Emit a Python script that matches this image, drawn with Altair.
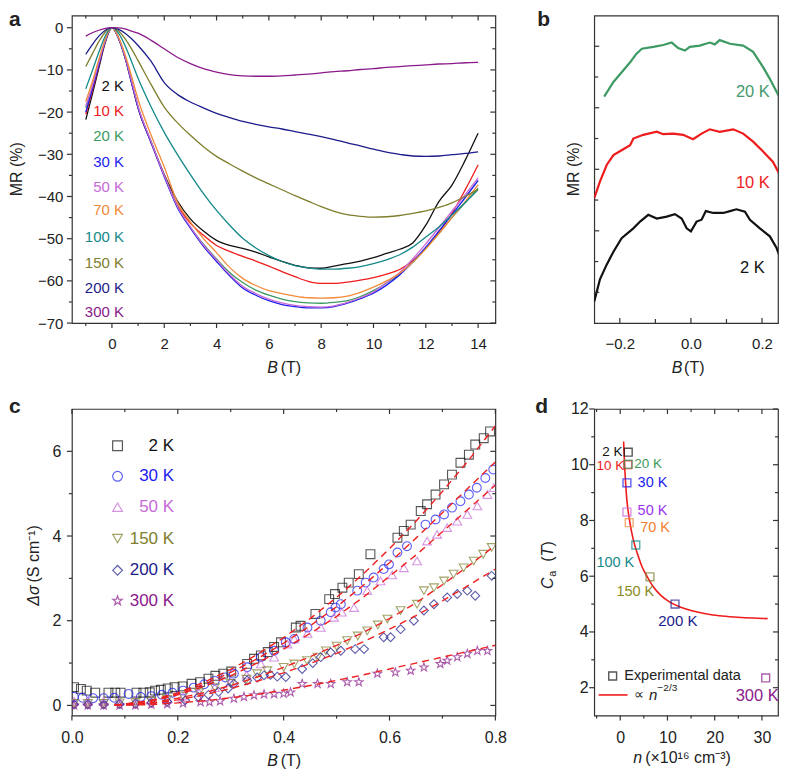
import altair as alt
import pandas as pd

FONT = "Liberation Sans"
TICK = "#333333"
INK = "#222222"

# ---------------- Panel a : MR vs B for ten temperatures ----------------
temps_a = ["2 K", "10 K", "20 K", "30 K", "50 K", "70 K", "100 K", "150 K", "200 K", "300 K"]
colors_a = ["#111111", "#ee1c1c", "#3c9a62", "#1c1cf0", "#c66ad6", "#f38b3a",
            "#14898a", "#7e7e2c", "#1c1c8a", "#8a1a8a"]
B_a = [-1.0, -0.75, -0.5, -0.25, 0.0, 0.25, 0.5, 0.75, 1.0, 1.5, 2.0, 2.5, 3.0, 3.5, 4.0,
       4.5, 5.0, 5.5, 6.0, 6.5, 7.0, 7.5, 8.0, 8.5, 9.0, 9.5, 10.0, 10.5, 11.0, 11.5,
       12.0, 12.5, 13.0, 13.5, 14.0]
MR_2K = [-21.8, -15.8, -9.5, -3.4, 0.0, -2.5, -7.0, -13.0, -19.0, -27.2, -34.8, -41.0, -45.3,
         -48.2, -50.4, -51.6, -52.3, -53.2, -54.3, -55.4, -56.3, -56.9, -57.0, -56.5, -55.9,
         -55.3, -54.5, -53.5, -52.5, -51.0, -46.8, -41.2, -37.3, -31.5, -25.0]
MR_10K = [-20.5, -15.0, -9.0, -3.2, 0.0, -2.5, -7.0, -13.0, -19.0, -27.2, -35.0, -42.0, -46.3,
          -49.2, -51.6, -53.0, -54.2, -55.3, -56.5, -57.8, -59.0, -60.1, -60.6, -60.6, -60.3,
          -59.8, -59.2, -58.4, -57.3, -55.2, -52.3, -48.4, -44.0, -38.5, -32.5]
MR_20K = [-19.0, -14.0, -8.4, -3.0, 0.0, -2.5, -7.0, -12.8, -18.8, -27.0, -35.0, -42.3, -47.3,
          -51.3, -54.8, -58.0, -60.4, -62.2, -63.4, -64.3, -64.9, -65.2, -65.3, -65.1, -64.7,
          -63.7, -62.3, -60.5, -58.4, -55.6, -52.3, -48.8, -45.0, -41.5, -38.0]
MR_30K = [-20.0, -14.6, -8.8, -3.1, 0.0, -2.5, -7.0, -13.0, -19.0, -27.3, -35.3, -42.6, -47.5,
          -51.8, -55.4, -58.8, -61.7, -63.4, -64.7, -65.6, -66.1, -66.4, -66.4, -66.1, -65.3,
          -64.2, -62.9, -61.0, -58.6, -55.5, -52.0, -48.2, -44.3, -40.3, -36.2]
MR_50K = [-18.5, -13.8, -8.2, -2.9, 0.0, -2.4, -6.8, -12.6, -18.6, -27.0, -35.0, -42.3, -47.2,
          -51.5, -55.0, -58.5, -61.3, -63.0, -64.3, -65.2, -65.8, -66.1, -66.2, -65.9, -65.1,
          -64.0, -62.6, -60.4, -58.0, -54.8, -51.2, -47.4, -43.5, -39.6, -35.6]
MR_70K = [-17.5, -12.8, -7.5, -2.6, 0.0, -2.2, -6.3, -11.5, -17.0, -25.5, -33.0, -41.3, -46.0,
          -50.0, -53.3, -56.8, -59.4, -61.1, -62.3, -63.0, -63.6, -64.0, -64.1, -64.0, -63.6,
          -62.7, -61.5, -60.0, -58.2, -55.6, -52.4, -48.8, -45.0, -41.2, -37.2]
MR_100K = [-14.5, -10.2, -5.8, -1.9, 0.0, -1.3, -4.2, -8.0, -12.0, -18.8, -24.8, -30.0, -34.8,
           -39.3, -43.3, -46.8, -49.9, -52.2, -54.0, -55.4, -56.4, -56.9, -57.2, -57.2, -57.0,
           -56.6, -55.9, -55.0, -53.8, -52.0, -49.6, -47.2, -44.4, -41.5, -38.4]
MR_150K = [-9.2, -6.2, -3.3, -1.0, 0.0, -0.8, -2.6, -5.0, -7.8, -13.5, -18.8, -22.5, -25.5,
           -28.2, -30.5, -32.3, -34.0, -35.6, -37.0, -38.4, -39.8, -41.1, -42.4, -43.5, -44.3,
           -44.7, -44.9, -44.8, -44.5, -44.0, -43.4, -42.6, -41.5, -40.0, -38.3]
MR_200K = [-6.3, -4.0, -2.0, -0.6, 0.0, -0.4, -1.3, -2.6, -4.2, -8.0, -13.0, -15.8, -17.6,
           -19.0, -20.3, -21.3, -22.2, -22.9, -23.5, -24.0, -24.6, -25.2, -25.8, -26.5, -27.3,
           -28.0, -28.8, -29.5, -30.0, -30.4, -30.5, -30.4, -30.1, -29.8, -29.4]
MR_300K = [-2.0, -1.2, -0.6, -0.15, 0.0, -0.05, -0.3, -0.8, -1.3, -3.0, -5.0, -7.0, -8.5,
           -9.7, -10.5, -11.1, -11.4, -11.5, -11.5, -11.4, -11.2, -11.0, -10.7, -10.4, -10.2,
           -9.9, -9.7, -9.4, -9.2, -9.0, -8.8, -8.6, -8.5, -8.3, -8.2]
MR_a = [MR_2K, MR_10K, MR_20K, MR_30K, MR_50K, MR_70K, MR_100K, MR_150K, MR_200K, MR_300K]

# ---------------- Panel b : low-field MR (offset curves) ----------------
temps_b = ["2 K", "10 K", "20 K"]
colors_b = ["#111111", "#ee1c24", "#449a6e"]
B_b2 = [-0.272, -0.256, -0.237, -0.218, -0.195, -0.162, -0.143, -0.120, -0.096, -0.068,
        -0.045, -0.026, -0.012, 0.000, 0.016, 0.030, 0.042, 0.063, 0.091, 0.110,
        0.128, 0.152, 0.166, 0.194, 0.222, 0.241, 0.255, 0.272]
MR_b2 = [-0.15, 0.21, 0.45, 0.66, 0.88, 1.04, 1.15, 1.26, 1.20, 1.23,
         1.27, 1.20, 1.04, 0.99, 1.15, 1.18, 1.32, 1.29, 1.29, 1.32,
         1.35, 1.31, 1.18, 1.04, 0.91, 0.72, 0.50, 0.39]
B_b10 = [-0.272, -0.256, -0.237, -0.218, -0.195, -0.171, -0.162, -0.134, -0.096, -0.078,
         -0.050, -0.022, 0.006, 0.030, 0.053, 0.081, 0.119, 0.147, 0.175, 0.203,
         0.231, 0.250, 0.272]
MR_b10 = [1.53, 1.80, 2.07, 2.23, 2.31, 2.39, 2.50, 2.56, 2.61, 2.57,
          2.58, 2.56, 2.49, 2.58, 2.65, 2.61, 2.65, 2.58, 2.45, 2.29,
          2.12, 1.91, 1.53]
B_b20 = [-0.244, -0.218, -0.190, -0.171, -0.153, -0.138, -0.106, -0.078, -0.054, -0.036,
         -0.017, -0.003, 0.025, 0.053, 0.067, 0.081, 0.110, 0.147, 0.175, 0.203,
         0.222, 0.241, 0.272]
MR_b20 = [3.18, 3.42, 3.61, 3.74, 3.88, 3.96, 3.99, 4.02, 4.06, 3.97,
          3.93, 3.99, 4.01, 4.06, 4.03, 4.10, 4.04, 4.01, 3.91, 3.66,
          3.47, 3.26, 2.93]

# ---------------- Panel c : delta sigma vs B ----------------
series_c = ["2 K", "30 K", "50 K", "150 K", "200 K", "300 K"]
colors_c = ["#333333", "#2233ee", "#a040f0", "#9a9a20", "#1c1c8c", "#8c1c8c"]
B_c_2 = [0.004, 0.017, 0.028, 0.044, 0.069, 0.082, 0.092, 0.122, 0.135, 0.147,
         0.157, 0.168, 0.181, 0.194, 0.209, 0.226, 0.242, 0.258, 0.271, 0.286,
         0.301, 0.331, 0.344, 0.357, 0.370, 0.382, 0.395, 0.423, 0.432, 0.460,
         0.486, 0.497, 0.511, 0.523, 0.542, 0.564, 0.615, 0.627, 0.640, 0.659,
         0.671, 0.687, 0.703, 0.718, 0.734, 0.750, 0.762, 0.778, 0.790]
S_c_2 = [0.43, 0.39, 0.35, 0.30, 0.30, 0.30, 0.30, 0.30, 0.30, 0.31,
         0.35, 0.37, 0.40, 0.43, 0.45, 0.51, 0.55, 0.63, 0.70, 0.75,
         0.80, 0.98, 1.10, 1.18, 1.26, 1.38, 1.49, 1.84, 1.88, 2.16,
         2.51, 2.63, 2.78, 2.90, 3.10, 3.57, 3.96, 4.12, 4.27, 4.59,
         4.75, 4.98, 5.22, 5.45, 5.73, 5.92, 6.16, 6.31, 6.47]
B_c_30 = [0.004, 0.020, 0.040, 0.060, 0.080, 0.107, 0.130, 0.150, 0.170, 0.190,
          0.210, 0.230, 0.250, 0.270, 0.290, 0.306, 0.331, 0.357, 0.382, 0.404,
          0.420, 0.445, 0.470, 0.489, 0.498, 0.508, 0.539, 0.555, 0.570, 0.589,
          0.599, 0.615, 0.633, 0.668, 0.687, 0.703, 0.718, 0.734, 0.750, 0.765,
          0.781, 0.796]
S_c_30 = [0.20, 0.18, 0.17, 0.17, 0.18, 0.27, 0.20, 0.22, 0.25, 0.30,
          0.35, 0.42, 0.50, 0.58, 0.66, 0.75, 0.90, 1.14, 1.29, 1.49,
          1.57, 1.84, 2.00, 2.20, 2.31, 2.39, 2.71, 2.90, 3.02, 3.22,
          3.33, 3.61, 3.76, 4.27, 4.39, 4.51, 4.67, 4.82, 4.98, 5.14,
          5.37, 5.57]
B_c_50 = [0.004, 0.030, 0.060, 0.090, 0.120, 0.150, 0.180, 0.210, 0.240, 0.270,
          0.300, 0.330, 0.357, 0.382, 0.407, 0.420, 0.445, 0.470, 0.495, 0.510,
          0.533, 0.558, 0.583, 0.605, 0.627, 0.652, 0.671, 0.690, 0.709, 0.728,
          0.747, 0.766, 0.785, 0.797]
S_c_50 = [0.10, 0.10, 0.10, 0.10, 0.11, 0.13, 0.16, 0.22, 0.30, 0.42,
          0.55, 0.72, 0.98, 1.14, 1.45, 1.57, 1.70, 1.84, 2.08, 2.20,
          2.31, 2.71, 2.94, 3.08, 3.25, 3.41, 3.88, 4.04, 4.20, 4.35,
          4.51, 4.71, 4.98, 5.14]
B_c_150 = [0.004, 0.030, 0.060, 0.090, 0.120, 0.150, 0.180, 0.210, 0.240, 0.270,
           0.300, 0.330, 0.350, 0.369, 0.400, 0.420, 0.444, 0.464, 0.480, 0.500,
           0.520, 0.540, 0.558, 0.578, 0.596, 0.621, 0.652, 0.665, 0.684, 0.703,
           0.721, 0.740, 0.759, 0.777, 0.793]
S_c_150 = [0.05, 0.05, 0.05, 0.06, 0.07, 0.10, 0.14, 0.22, 0.30, 0.42,
           0.52, 0.62, 0.75, 0.82, 0.90, 0.98, 1.06, 1.14, 1.29, 1.40,
           1.53, 1.64, 1.76, 1.90, 2.04, 2.24, 2.39, 2.71, 2.78, 2.94,
           3.10, 3.25, 3.41, 3.57, 3.73]
B_c_200 = [0.004, 0.030, 0.060, 0.090, 0.120, 0.150, 0.180, 0.214, 0.239, 0.258,
           0.277, 0.295, 0.306, 0.331, 0.350, 0.363, 0.375, 0.388, 0.404, 0.435,
           0.455, 0.470, 0.489, 0.508, 0.535, 0.552, 0.589, 0.602, 0.621, 0.646,
           0.665, 0.684, 0.709, 0.728, 0.747, 0.762, 0.793]
S_c_200 = [0.02, 0.02, 0.02, 0.03, 0.04, 0.06, 0.09, 0.12, 0.20, 0.25,
           0.32, 0.40, 0.51, 0.59, 0.66, 0.71, 0.72, 0.68, 0.67, 0.86,
           1.00, 1.14, 1.25, 1.29, 1.33, 1.33, 1.61, 1.61, 1.80, 2.00,
           2.24, 2.39, 2.55, 2.63, 2.71, 2.59, 3.06]
B_c_300 = [0.004, 0.030, 0.060, 0.090, 0.120, 0.150, 0.180, 0.210, 0.243, 0.260,
           0.280, 0.306, 0.325, 0.344, 0.363, 0.382, 0.400, 0.413, 0.435, 0.464,
           0.489, 0.520, 0.542, 0.577, 0.611, 0.640, 0.665, 0.696, 0.709, 0.728,
           0.747, 0.766, 0.785]
S_c_300 = [0.00, 0.00, 0.00, 0.00, 0.00, 0.02, 0.03, 0.05, 0.08, 0.08,
           0.10, 0.16, 0.20, 0.24, 0.26, 0.27, 0.28, 0.31, 0.51, 0.51,
           0.51, 0.55, 0.55, 0.75, 0.78, 0.82, 0.90, 0.98, 1.06, 1.14,
           1.22, 1.29, 1.29]
B_fit_c = [0.08, 0.15, 0.20, 0.25, 0.30, 0.35, 0.40, 0.45, 0.50, 0.55, 0.60, 0.65, 0.70, 0.75, 0.80]
fit_c_2 = [0.0, 0.12, 0.30, 0.55, 0.85, 1.20, 1.60, 2.05, 2.55, 3.10, 3.70, 4.35, 5.05, 5.80, 6.60]
fit_c_30 = [0.0, 0.10, 0.27, 0.50, 0.78, 1.10, 1.47, 1.88, 2.33, 2.83, 3.37, 3.95, 4.55, 5.15, 5.75]
fit_c_50 = [0.0, 0.10, 0.25, 0.45, 0.70, 1.00, 1.33, 1.70, 2.10, 2.55, 3.05, 3.55, 4.10, 4.65, 5.20]
fit_c_150 = [0.0, 0.06, 0.17, 0.30, 0.47, 0.67, 0.90, 1.15, 1.42, 1.72, 2.05, 2.42, 2.85, 3.30, 3.78]
fit_c_200 = [0.0, 0.05, 0.13, 0.25, 0.40, 0.57, 0.77, 0.99, 1.23, 1.50, 1.80, 2.12, 2.47, 2.84, 3.22]
fit_c_300 = [0.0, 0.02, 0.06, 0.11, 0.18, 0.26, 0.36, 0.47, 0.59, 0.72, 0.86, 1.00, 1.14, 1.28, 1.42]

# ---------------- Panel d : Ca vs n ----------------
temps_d = ["10 K", "2 K", "20 K", "30 K", "50 K", "70 K", "100 K", "150 K", "200 K", "300 K"]
colors_d = ["#ee1c1c", "#111111", "#3a9a55", "#1c1cee", "#9933ee", "#f08030",
            "#14898a", "#8a8a22", "#1c1c8c", "#8c1c8c"]
n_d = [1.6, 1.7, 1.7, 1.42, 1.42, 1.9, 3.3, 6.3, 11.6, 30.8]
Ca_d = [10.0, 10.45, 10.02, 9.35, 8.3, 7.92, 7.12, 5.98, 5.0, 2.35]
n_fit = [0.72, 0.85, 1.0, 1.14, 1.4, 1.7, 2.05, 2.4, 2.83, 3.68, 4.6, 5.79, 7.0, 8.6,
         10.5, 12.8, 15.0, 17.8, 21.0, 24.8, 28.0, 31.2]
Ca_fit = [10.83, 10.3, 9.75, 9.35, 8.75, 8.31, 7.92, 7.6, 7.27, 6.79, 6.35, 5.96, 5.62, 5.31,
          5.07, 4.89, 4.77, 4.66, 4.58, 4.53, 4.5, 4.48]

ONE = pd.DataFrame({"k": [0]})


def txt(text, x, y, size=16, style="normal", weight="normal", angle=0,
        align="left", baseline="alphabetic", color=INK):
    return alt.Chart(ONE).mark_text(
        text=text, x=x, y=y, fontSize=size, fontStyle=style, fontWeight=weight,
        angle=angle, align=align, baseline=baseline, color=color, font=FONT)


def ax(values, fmt, pad, size):
    return alt.Axis(values=values, format=fmt, title=None, tickSize=0, ticks=False,
                    domain=False, grid=False, labelPadding=pad, labelFontSize=size,
                    labelFont=FONT, labelColor=INK, labelFlush=False, labelOverlap=False)


def ticks(xs, ys, axx, axy, W, H, xmaj, xmin, ymaj, ymin, top=True, right=True,
          maj=5, mnr=3, out_bl=True):
    """Bottom/left ticks point outward (or inward if out_bl False); top/right mirror ticks point inward."""
    out = []
    sgn = 1 if out_bl else -1
    for vals, L in ((xmaj, maj), (xmin, mnr)):
        if not vals:
            continue
        df = pd.DataFrame({"v": vals})
        out.append(alt.Chart(df).mark_rule(color=TICK, strokeWidth=1.2).encode(
            x=alt.X("v:Q", scale=xs, axis=axx), y=alt.value(H), y2=alt.value(H + sgn * L)))
        if top:
            out.append(alt.Chart(df).mark_rule(color=TICK, strokeWidth=1.2).encode(
                x=alt.X("v:Q", scale=xs, axis=axx), y=alt.value(0), y2=alt.value(L)))
    for vals, L in ((ymaj, maj), (ymin, mnr)):
        if not vals:
            continue
        df = pd.DataFrame({"w": vals})
        out.append(alt.Chart(df).mark_rule(color=TICK, strokeWidth=1.2).encode(
            y=alt.Y("w:Q", scale=ys, axis=axy), x=alt.value(0), x2=alt.value(-sgn * L)))
        if right:
            out.append(alt.Chart(df).mark_rule(color=TICK, strokeWidth=1.2).encode(
                y=alt.Y("w:Q", scale=ys, axis=axy), x=alt.value(W), x2=alt.value(W - L)))
    return out


# ======== Panel a ========
WA, HA = 424, 308
xa = alt.Scale(domain=[-1.53, 14.66], nice=False, zero=False)
ya = alt.Scale(domain=[-70, 2.9], nice=False, zero=False)
AXA = ax(list(range(0, 15, 2)), "d", 13.5, 15)
AYA = ax(list(range(-70, 1, 10)), "d", 9, 15)
rows = []
for t, vals in zip(temps_a, MR_a):
    for b, v in zip(B_a, vals):
        rows.append({"T": t, "B": b, "MR": v})
df_a = pd.DataFrame(rows)
lines_a = alt.Chart(df_a).mark_line(strokeWidth=1.3, interpolate="monotone", clip=True).encode(
    x=alt.X("B:Q", scale=xa, axis=AXA),
    y=alt.Y("MR:Q", scale=ya, axis=AYA),
    color=alt.Color("T:N", scale=alt.Scale(domain=temps_a, range=colors_a), legend=None),
    detail="T:N",
)
label_y_a = [-13.9, -19.7, -25.6, -31.8, -37.7, -43.3, -49.5, -55.8, -61.7, -67.4]
lab_a = pd.DataFrame({"t": temps_a, "c": colors_a, "y": label_y_a, "x": [0.46] * 10})
labels_a = alt.Chart(lab_a).mark_text(align="right", baseline="middle", fontSize=15, font=FONT).encode(
    x=alt.X("x:Q", scale=xa, axis=AXA), y=alt.Y("y:Q", scale=ya, axis=AYA),
    text="t:N", color=alt.Color("c:N", scale=None))
pa = alt.layer(
    lines_a, labels_a,
    *ticks(xa, ya, AXA, AYA, WA, HA, list(range(0, 15, 2)), list(range(-1, 14, 2)),
           list(range(-70, 1, 10)), list(range(-65, 0, 10))),
    txt("a", -63, 11, size=21, weight="bold"),
    txt("MR (%)", -55, 154, angle=270, align="center", baseline="middle"),
    txt("B", 195.7, 357.7, style="italic"),
    txt("(T)", 209, 357.7),
).properties(width=WA, height=HA)

# ======== Panel b ========
WB, HB = 184, 308
xb = alt.Scale(domain=[-0.272, 0.245], nice=False, zero=False)
yb = alt.Scale(domain=[-0.5, 4.5], nice=False, zero=False)
AXB = ax([-0.2, 0.0, 0.2], ".1f", 13.5, 15)
rows = []
for t, bs, vs in zip(temps_b, [B_b2, B_b10, B_b20], [MR_b2, MR_b10, MR_b20]):
    for b, v in zip(bs, vs):
        rows.append({"T": t, "B": b, "MR": v})
df_b = pd.DataFrame(rows)
lines_b = alt.Chart(df_b).mark_line(strokeWidth=2.2, clip=True).encode(
    x=alt.X("B:Q", scale=xb, axis=AXB),
    y=alt.Y("MR:Q", scale=yb, axis=None),
    color=alt.Color("T:N", scale=alt.Scale(domain=temps_b, range=colors_b), legend=None),
    detail="T:N",
)
lab_b = pd.DataFrame({"t": ["20 K", "10 K", "2 K"], "c": [colors_b[2], colors_b[1], colors_b[0]],
                      "x": [0.222, 0.222, 0.208], "y": [3.26, 1.77, 0.39]})
labels_b = alt.Chart(lab_b).mark_text(align="right", baseline="middle", fontSize=16.5, font=FONT).encode(
    x=alt.X("x:Q", scale=xb, axis=AXB), y=alt.Y("y:Q", scale=yb, axis=None),
    text="t:N", color=alt.Color("c:N", scale=None))
pb = alt.layer(
    lines_b, labels_b,
    *ticks(xb, yb, AXB, None, WB, HB, [-0.2, 0.0, 0.2], [-0.1, 0.1], [0, 1, 2, 3, 4],
           [0.5, 1.5, 2.5, 3.5], top=False, right=False, maj=5, mnr=4, out_bl=False),
    txt("b", -57, 11, size=21, weight="bold"),
    txt("MR (%)", -20, 154, angle=270, align="center", baseline="middle"),
    txt("B", 77.7, 357.7, style="italic"),
    txt("(T)", 90, 357.7),
).properties(width=WB, height=HB)

# ======== Panel c ========
WC, HC = 424, 307
xc = alt.Scale(domain=[0, 0.8], nice=False, zero=False)
yc = alt.Scale(domain=[-0.24, 7], nice=False, zero=False)
AXC = ax([0, 0.2, 0.4, 0.6, 0.8], ".1f", 14, 16)
AYC = ax([0, 2, 4, 6], "d", 11, 16)
STAR = ("M0,-1L0.235,-0.324L0.951,-0.309L0.38,0.124L0.588,0.809L0,0.4L-0.588,0.809"
        "L-0.38,0.124L-0.951,-0.309L-0.235,-0.324Z")
shapes_c = ["square", "circle", "triangle-up", "triangle-down", "diamond", STAR]
rows = []
for t, bs, vs in zip(series_c, [B_c_2, B_c_30, B_c_50, B_c_150, B_c_200, B_c_300],
                     [S_c_2, S_c_30, S_c_50, S_c_150, S_c_200, S_c_300]):
    for b, v in zip(bs, vs):
        rows.append({"T": t, "B": b, "S": v})
df_c = pd.DataFrame(rows)
rows = []
for t, vs in zip(series_c, [fit_c_2, fit_c_30, fit_c_50, fit_c_150, fit_c_200, fit_c_300]):
    for b, v in zip(B_fit_c, vs):
        rows.append({"T": t, "B": b, "F": v})
df_cf = pd.DataFrame(rows)
shape_enc = alt.Shape("T:N", scale=alt.Scale(domain=series_c, range=shapes_c), legend=None)
color_enc = alt.Color("T:N", scale=alt.Scale(domain=series_c, range=colors_c), legend=None)
pts_c = alt.Chart(df_c).mark_point(filled=False, size=78, strokeWidth=1.1, clip=True).encode(
    x=alt.X("B:Q", scale=xc, axis=AXC),
    y=alt.Y("S:Q", scale=yc, axis=AYC),
    shape=shape_enc, color=color_enc,
)
fit_c = alt.Chart(df_cf).mark_line(color="#ee2020", strokeWidth=1.4, strokeDash=[7, 5], clip=True).encode(
    x=alt.X("B:Q", scale=xc, axis=AXC), y=alt.Y("F:Q", scale=yc, axis=AYC), detail="T:N")
leg_c = pd.DataFrame({"T": series_c, "x": [0.0862] * 6, "tx": [0.193] * 6,
                      "y": [6.13, 5.41, 4.68, 3.94, 3.19, 2.47]})
leg_pts = alt.Chart(leg_c).mark_point(filled=False, size=95, strokeWidth=1.2).encode(
    x=alt.X("x:Q", scale=xc, axis=AXC), y=alt.Y("y:Q", scale=yc, axis=AYC),
    shape=shape_enc, color=color_enc)
leg_txt = alt.Chart(leg_c).mark_text(align="right", baseline="middle", fontSize=17, font=FONT).encode(
    x=alt.X("tx:Q", scale=xc, axis=AXC), y=alt.Y("y:Q", scale=yc, axis=AYC),
    text="T:N", color=color_enc)
pc = alt.layer(
    pts_c, fit_c, leg_pts, leg_txt,
    *ticks(xc, yc, AXC, AYC, WC, HC, [0, 0.2, 0.4, 0.6, 0.8], [0.1, 0.3, 0.5, 0.7],
           [0, 2, 4, 6], [1, 3, 5]),
    txt("c", -63, 4, size=21, weight="bold"),
    txt("\u0394\u03c3", -38, 197, style="italic", angle=270, align="left", baseline="middle"),
    txt("(S cm\u207b\u00b9)", -38, 173.7, angle=270, align="left", baseline="middle"),
    txt("B", 195.7, 357, style="italic"),
    txt("(T)", 209, 357),
).properties(width=WC, height=HC)

# ======== Panel d ========
WD, HD = 184, 307
xd = alt.Scale(domain=[-5.5, 33.4], nice=False, zero=False)
yd = alt.Scale(domain=[1, 12], nice=False, zero=False)
AXD = ax([0, 10, 20, 30], "d", 14, 16)
AYD = ax([2, 4, 6, 8, 10, 12], "d", 6, 16)
df_d = pd.DataFrame({"T": temps_d, "n": n_d, "Ca": Ca_d})
df_df = pd.DataFrame({"n": n_fit, "Ca": Ca_fit})
fit_d = alt.Chart(df_df).mark_line(color="#ee1c1c", strokeWidth=1.6, interpolate="monotone").encode(
    x=alt.X("n:Q", scale=xd, axis=AXD),
    y=alt.Y("Ca:Q", scale=yd, axis=AYD),
)
pts_d = alt.Chart(df_d).mark_point(shape="square", filled=False, size=62, strokeWidth=1.4).encode(
    x=alt.X("n:Q", scale=xd, axis=AXD), y=alt.Y("Ca:Q", scale=yd, axis=AYD),
    color=alt.Color("T:N", scale=alt.Scale(domain=temps_d, range=colors_d), legend=None))
lab_d = pd.DataFrame({
    "t": ["2 K", "10 K", "20 K", "30 K", "50 K", "70 K", "100 K", "150 K", "200 K", "300 K"],
    "c": ["#111111", "#ee1c1c", "#3a9a55", "#1c1cee", "#9933ee", "#f08030", "#14898a",
          "#8a8a22", "#1c1c8c", "#8c1c8c"],
    "x": [0.5, 0.85, 2.96, 3.68, 3.68, 4.23, 2.96, 7.2, 12.2, 29.0],
    "y": [10.45, 9.94, 10.02, 9.35, 8.34, 7.72, 6.46, 5.42, 4.41, 1.7],
    "a": ["right", "right", "left", "left", "left", "left", "right", "right", "center", "center"],
    "s": [13.5, 13.5, 13.5, 14.5, 14.5, 14.5, 14.5, 14.5, 15, 16.5],
})
labels_d = []
for al in ["left", "right", "center"]:
    sub = lab_d[lab_d["a"] == al]
    labels_d.append(alt.Chart(sub).mark_text(align=al, baseline="middle", font=FONT).encode(
        x=alt.X("x:Q", scale=xd, axis=AXD), y=alt.Y("y:Q", scale=yd, axis=AYD),
        text="t:N", color=alt.Color("c:N", scale=None),
        size=alt.Size("s:Q", scale=None)))

leg_sq = alt.Chart(pd.DataFrame({"n": [-1.6], "Ca": [2.42]})).mark_point(
    shape="square", filled=False, size=62, strokeWidth=1.4, color="#111111").encode(
    x=alt.X("n:Q", scale=xd, axis=AXD), y=alt.Y("Ca:Q", scale=yd, axis=AYD))
leg_tx = alt.Chart(pd.DataFrame({"n": [0.85], "Ca": [2.42]})).mark_text(
    text="Experimental data", align="left", baseline="middle", fontSize=14.5, font=FONT, color=INK).encode(
    x=alt.X("n:Q", scale=xd, axis=AXD), y=alt.Y("Ca:Q", scale=yd, axis=AYD))
leg_ln = alt.Chart(pd.DataFrame({"n": [-4.57], "n2": [1.56], "Ca": [1.74]})).mark_rule(
    color="#ee1c1c", strokeWidth=1.6).encode(
    x=alt.X("n:Q", scale=xd, axis=AXD), x2="n2:Q", y=alt.Y("Ca:Q", scale=yd, axis=AYD))
leg_p = alt.Chart(pd.DataFrame({"n": [2.96], "Ca": [1.74]})).mark_text(
    text="\u221d", align="left", baseline="middle", fontSize=14, font=FONT, color=INK).encode(
    x=alt.X("n:Q", scale=xd, axis=AXD), y=alt.Y("Ca:Q", scale=yd, axis=AYD))
leg_n = alt.Chart(pd.DataFrame({"n": [6.07], "Ca": [1.74]})).mark_text(
    text="n", align="left", baseline="middle", fontSize=15, fontStyle="italic", font=FONT, color=INK).encode(
    x=alt.X("n:Q", scale=xd, axis=AXD), y=alt.Y("Ca:Q", scale=yd, axis=AYD))
leg_e = alt.Chart(pd.DataFrame({"n": [7.9], "Ca": [2.0]})).mark_text(
    text="\u22122/3", align="left", baseline="middle", fontSize=10, font=FONT, color=INK).encode(
    x=alt.X("n:Q", scale=xd, axis=AXD), y=alt.Y("Ca:Q", scale=yd, axis=AYD))
pd_ = alt.layer(
    fit_d, pts_d, *labels_d, leg_sq, leg_tx, leg_ln, leg_p, leg_n, leg_e,
    *ticks(xd, yd, AXD, AYD, WD, HD, [0, 10, 20, 30], [-5, 5, 15, 25],
           [2, 4, 6, 8, 10, 12], [3, 5, 7, 9, 11]),
    txt("d", -59, 4, size=21, weight="bold"),
    txt("C", -46, 180.3, style="italic", angle=270, align="left", baseline="middle"),
    txt("a", -41.5, 168, size=11, angle=270, align="left", baseline="middle"),
    txt("(", -46, 153, angle=270, align="left", baseline="middle"),
    txt("T", -46, 147.6, style="italic", angle=270, align="left", baseline="middle"),
    txt(")", -46, 137.8, angle=270, align="left", baseline="middle"),
    txt("n", 39, 354, style="italic"),
    txt("(\u00d710\u00b9\u2076 cm\u207b\u00b3)", 51, 354),
).properties(width=WD, height=HD)

chart = alt.concat(
    pa, pb, pc, pd_, columns=2, spacing={"row": 86, "column": 99},
    bounds="flush", align="each", padding=0, background="white",
).configure_view(stroke="#333333", strokeWidth=1.2).configure_text(font=FONT)

chart.save("out.html", embed_options={"renderer": "svg", "actions": False})
